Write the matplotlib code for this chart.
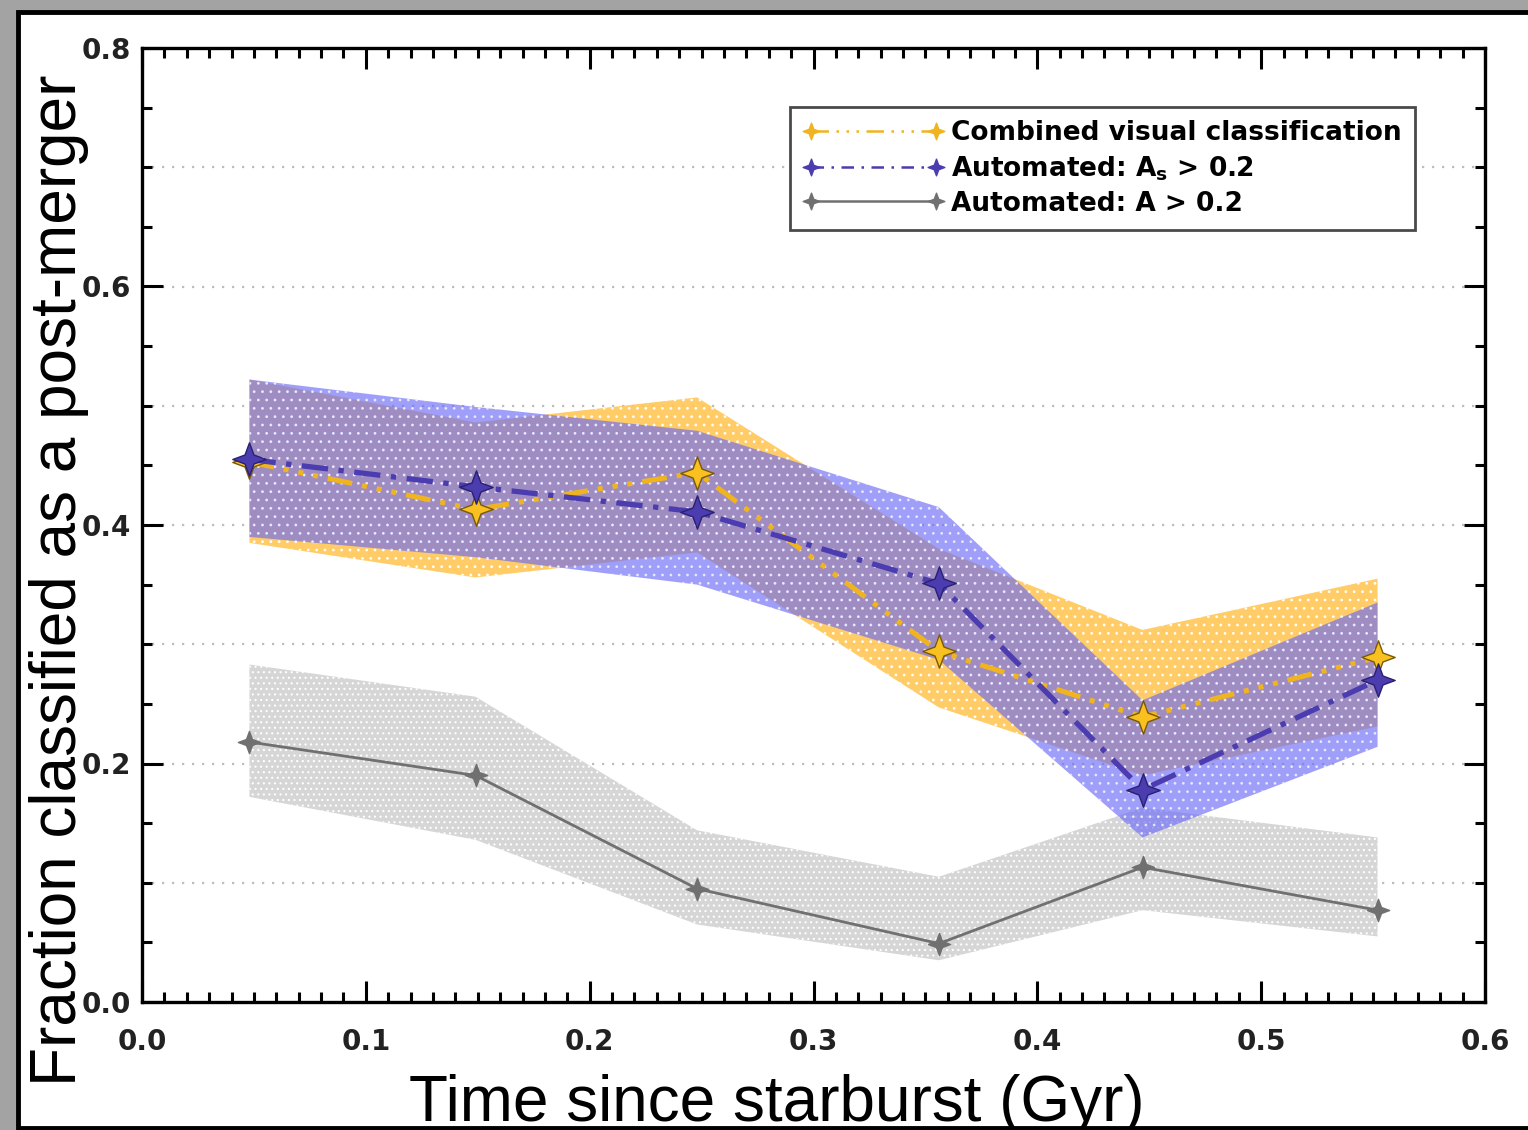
import numpy as np
import matplotlib.pyplot as plt
from matplotlib.path import Path
from matplotlib.patches import Rectangle
from matplotlib.lines import Line2D
from matplotlib.ticker import MultipleLocator, FormatStrFormatter

# time since starburst (Gyr) of each bin
t = [0.048, 0.149, 0.248, 0.356, 0.447, 0.552]

# combined visual classification
vis = [0.453, 0.413, 0.444, 0.294, 0.239, 0.289]
vis_hi = [0.522, 0.486, 0.507, 0.380, 0.312, 0.355]
vis_lo = [0.385, 0.356, 0.377, 0.247, 0.190, 0.231]

# automated: A_s > 0.2
asym_s = [0.455, 0.432, 0.411, 0.351, 0.178, 0.270]
asym_s_hi = [0.522, 0.499, 0.479, 0.415, 0.253, 0.335]
asym_s_lo = [0.390, 0.373, 0.350, 0.287, 0.138, 0.214]

# automated: A > 0.2
asym = [0.218, 0.190, 0.095, 0.049, 0.113, 0.077]
asym_hi = [0.283, 0.256, 0.144, 0.105, 0.163, 0.138]
asym_lo = [0.172, 0.136, 0.065, 0.035, 0.077, 0.055]

grid_y = [0.1, 0.2, 0.3, 0.4, 0.5, 0.6, 0.7]

orange = '#f0b41e'
orange_fill = '#ffc85a'
blue = '#4b3caf'
blue_fill = '#6a6af7'
grey = '#707070'
grey_fill = '#d6d6d6'


def star4(w=0.27):
    verts = [(0, 1), (w, w), (1, 0), (w, -w), (0, -1), (-w, -w), (-1, 0), (-w, w), (0, 1)]
    codes = [Path.MOVETO] + [Path.LINETO] * 7 + [Path.CLOSEPOLY]
    return Path(verts, codes)


star = star4()
ls_vis = (0, (5, 2, 1, 2, 1, 2, 1, 2))
ls_as = (0, (5, 2, 1, 2))

plt.rcParams['hatch.linewidth'] = 0.8

fig = plt.figure(figsize=(15.28, 11.3), dpi=100)
fig.patch.set_facecolor('#a3a3a3')
panel = Rectangle((18 / 1528, 2 / 1130), 1.2, 1116 / 1130, transform=fig.transFigure,
                  facecolor='white', edgecolor='black', linewidth=3.5, zorder=-10)
fig.add_artist(panel)

ax = fig.add_axes([142 / 1528, 1 - 1002 / 1130, 1343 / 1528, 954 / 1130])
ax.set_facecolor('white')

for g in grid_y:
    ax.axhline(g, color='#bdbdbd', lw=1.6, ls=(0, (1, 3.5)), zorder=0.5)

# uncertainty bands
ax.fill_between(t, asym_lo, asym_hi, facecolor=grey_fill, edgecolor='white',
                linewidth=0, hatch='...', zorder=1)
ax.fill_between(t, vis_lo, vis_hi, facecolor=orange_fill, edgecolor='white',
                linewidth=0, alpha=0.92, hatch='..', zorder=1.1)
ax.fill_between(t, asym_s_lo, asym_s_hi, facecolor=blue_fill, edgecolor='white',
                linewidth=0, alpha=0.64, hatch='..', zorder=1.2)

ax.plot(t, asym, color=grey, lw=2, marker=star, ms=16, mfc=grey, mec=grey, zorder=3)
ax.plot(t, vis, color=orange, lw=3.6, ls=ls_vis, marker=star, ms=24,
        mfc='#f8c020', mec='#7a5a00', mew=1.0, zorder=4)
ax.plot(t, asym_s, color=blue, lw=3.8, ls=ls_as, marker=star, ms=24,
        mfc=blue, mec='#2a2070', mew=1.0, zorder=5)

ax.set_xlim(0, 0.6)
ax.set_ylim(0, 0.8)
ax.xaxis.set_major_locator(MultipleLocator(0.1))
ax.xaxis.set_minor_locator(MultipleLocator(0.01))
ax.yaxis.set_major_locator(MultipleLocator(0.2))
ax.yaxis.set_minor_locator(MultipleLocator(0.05))
ax.xaxis.set_major_formatter(FormatStrFormatter('%.1f'))
ax.yaxis.set_major_formatter(FormatStrFormatter('%.1f'))
ax.tick_params(which='both', direction='in', top=True, right=True, width=2.2, color='black')
ax.tick_params(which='major', length=15)
ax.tick_params(which='minor', length=7)
ax.tick_params(axis='x', pad=19, labelsize=20)
ax.tick_params(axis='y', pad=8, labelsize=20)
for lab in ax.get_xticklabels() + ax.get_yticklabels():
    lab.set_fontweight('bold')
    lab.set_color('#222222')
for sp in ax.spines.values():
    sp.set_linewidth(2.4)

handles = [
    Line2D([], [], color=orange, lw=1.8, ls=(0, (7, 3, 1, 3, 1, 3, 1, 3)),
           marker=star, ms=12, mfc=orange, mec=orange),
    Line2D([], [], color=blue, lw=1.8, ls=(0, (5, 3, 1, 3)),
           marker=star, ms=12, mfc=blue, mec=blue),
    Line2D([], [], color=grey, lw=1.8, marker=star, ms=12, mfc=grey, mec=grey),
]
labels = ['Combined visual classification',
          r'Automated: A$_\mathbf{s}$ > 0.2',
          'Automated: A > 0.2']
leg = ax.legend(handles, labels, loc='upper right', bbox_to_anchor=(0.948, 0.938),
                borderaxespad=0, numpoints=2, handlelength=5.3, handletextpad=0.3,
                labelspacing=0.3, borderpad=0.5, fancybox=False, framealpha=1,
                prop={'size': 19, 'weight': 'bold'})
leg.get_frame().set_edgecolor('#4a4a4a')
leg.get_frame().set_linewidth(2)
leg.set_zorder(10)

fig.text(777 / 1528, 1 - 1121 / 1130, 'Time since starburst (Gyr)', ha='center',
         va='baseline', fontsize=46, family='Liberation Sans')
fig.text(76 / 1528, 1 - 580 / 1130, 'Fraction classified as a post-merger', ha='center',
         va='baseline', rotation=90, rotation_mode='anchor', fontsize=46,
         family='Liberation Sans', zorder=20)

fig.savefig('out.png', dpi=100, facecolor=fig.get_facecolor())
